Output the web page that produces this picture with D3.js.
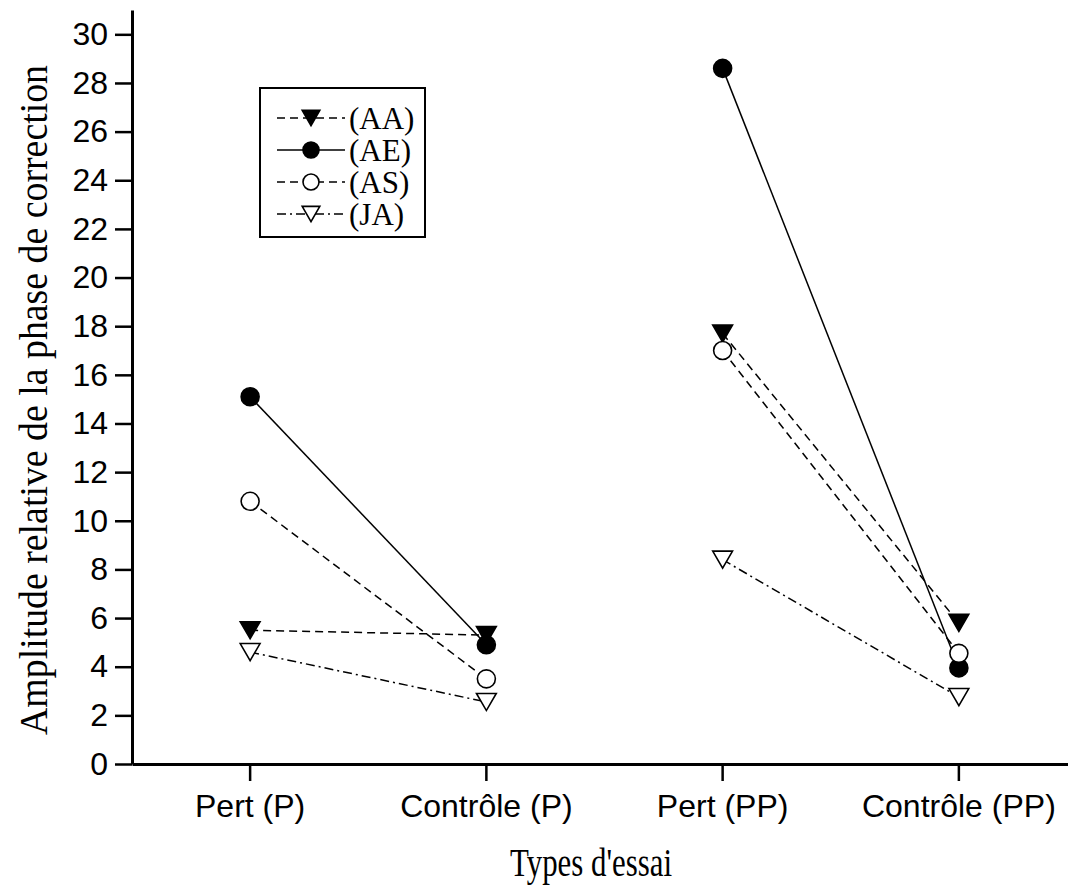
<!DOCTYPE html>
<meta charset="utf-8">
<style>
body { margin: 0; background: #fff; }
.axis text { font-family: 'Liberation Sans', Arial, sans-serif; font-size: 32px; fill: #000; }
.axis path, .axis line { stroke: #000; }
.title { font-family: 'Liberation Serif', 'Times New Roman', serif; fill: #000; }
</style>
<body>
<div id="chart"></div>
<script src="https://cdn.jsdelivr.net/npm/d3@7"></script>
<script>

const categories = ['Pert (P)', 'Contrôle (P)', 'Pert (PP)', 'Contrôle (PP)'];
const seriesNames = ['(AA)', '(AE)', '(AS)', '(JA)'];
const valuesAA = [5.5, 5.3, 17.7, 5.8];
const valuesAE = [15.1, 4.9, 28.6, 3.95];
const valuesAS = [10.8, 3.5, 17.0, 4.55];
const valuesJA = [4.6, 2.55, 8.4, 2.75];
const yTicks = [0, 2, 4, 6, 8, 10, 12, 14, 16, 18, 20, 22, 24, 26, 28, 30];

const width = 1068, height = 890;

const svg = d3.select('#chart').append('svg')
    .attr('width', width)
    .attr('height', height);

const x = d3.scaleBand()
    .domain(categories)
    .range([132, 1077])
    .padding(0);

const y = d3.scaleLinear()
    .domain([0, 31])
    .range([764, 10]);

// series styles: marker shape, fill, dash pattern
const series = [
    { name: seriesNames[0], values: valuesAA, shape: 'tri', fill: '#000', dash: '8,5' },
    { name: seriesNames[1], values: valuesAE, shape: 'circle', fill: '#000', dash: null },
    { name: seriesNames[2], values: valuesAS, shape: 'circle', fill: '#fff', dash: '8,5' },
    { name: seriesNames[3], values: valuesJA, shape: 'tri', fill: '#fff', dash: '9,4,2,4' }
];

const cx = d => x(d) + x.bandwidth() / 2;

// axes
const xAxis = d3.axisBottom(x).tickSize(17).tickSizeOuter(0).tickPadding(7);
const yAxis = d3.axisLeft(y).tickValues(yTicks).tickSize(17).tickSizeOuter(0).tickPadding(7);

const gx = svg.append('g')
    .attr('class', 'axis')
    .attr('transform', 'translate(0,' + y(0) + ')')
    .call(xAxis);
gx.select('.domain').attr('stroke-width', 3);
gx.selectAll('.tick line').attr('stroke-width', 2.5);
gx.selectAll('.tick text').attr('dy', '0.9em');

const gy = svg.append('g')
    .attr('class', 'axis')
    .attr('transform', 'translate(' + x.range()[0] + ',0)')
    .call(yAxis);
gy.select('.domain').attr('stroke-width', 3);
gy.selectAll('.tick line').attr('stroke-width', 2.5);

// markers
function drawMarker(g, s, px, py, r) {
    if (s.shape === 'circle') {
        g.append('circle')
            .attr('cx', px).attr('cy', py).attr('r', r)
            .attr('fill', s.fill).attr('stroke', '#000').attr('stroke-width', 1.6);
    } else {
        const h = r * 1.9;
        g.append('path')
            .attr('d', 'M' + (px - r * 1.1) + ',' + (py - h / 2) +
                       'L' + (px + r * 1.1) + ',' + (py - h / 2) +
                       'L' + px + ',' + (py + h / 2) + 'Z')
            .attr('fill', s.fill).attr('stroke', '#000').attr('stroke-width', 1.6)
            .attr('stroke-linejoin', 'miter');
    }
}

const plot = svg.append('g');

series.forEach(s => {
    // two separate segments per series (P pair and PP pair)
    [[0, 1], [2, 3]].forEach(pair => {
        plot.append('line')
            .attr('x1', cx(categories[pair[0]])).attr('y1', y(s.values[pair[0]]))
            .attr('x2', cx(categories[pair[1]])).attr('y2', y(s.values[pair[1]]))
            .attr('stroke', '#000')
            .attr('stroke-width', 1.5)
            .attr('stroke-dasharray', s.dash);
    });
});

series.forEach(s => {
    s.values.forEach((v, i) => {
        drawMarker(plot, s, cx(categories[i]), y(v), 9);
    });
});

// legend
const legend = svg.append('g');
legend.append('rect')
    .attr('x', 260).attr('y', 88)
    .attr('width', 165).attr('height', 149)
    .attr('fill', '#fff').attr('stroke', '#000').attr('stroke-width', 2);

series.forEach((s, i) => {
    const ly = 118 + i * 32;
    legend.append('line')
        .attr('x1', 277).attr('x2', 345)
        .attr('y1', ly).attr('y2', ly)
        .attr('stroke', '#000').attr('stroke-width', 1.5)
        .attr('stroke-dasharray', s.dash);
    drawMarker(legend, s, 311, ly, 8);
    legend.append('text')
        .attr('class', 'title')
        .attr('x', 349).attr('y', ly + 11)
        .attr('font-size', 31)
        .text(s.name);
});

// axis titles
svg.append('text')
    .attr('class', 'title')
    .attr('font-size', 40)
    .attr('text-anchor', 'middle')
    .attr('transform', 'translate(47,400) rotate(-90)')
    .attr('textLength', 670)
    .attr('lengthAdjust', 'spacingAndGlyphs')
    .text('Amplitude relative de la phase de correction');

svg.append('text')
    .attr('class', 'title')
    .attr('font-size', 40)
    .attr('text-anchor', 'middle')
    .attr('x', 591).attr('y', 876)
    .attr('textLength', 162)
    .attr('lengthAdjust', 'spacingAndGlyphs')
    .text("Types d'essai");

</script>
</body>
